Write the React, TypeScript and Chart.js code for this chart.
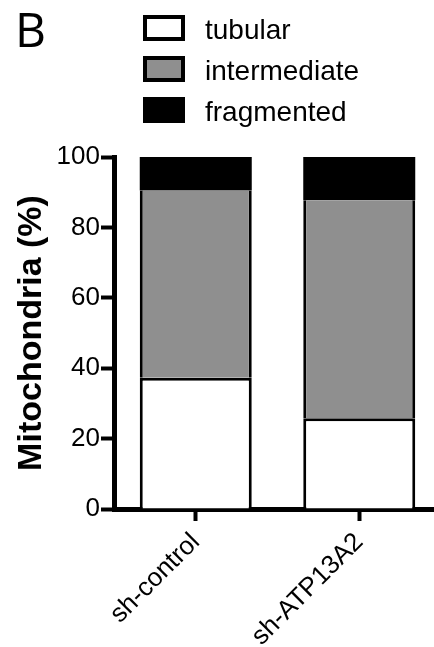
import React, { useEffect, useRef } from "react";
import { Chart, registerables } from "chart.js";

Chart.register(...registerables);

const categories = ["sh-control", "sh-ATP13A2"];
const seriesNames = ["tubular", "intermediate", "fragmented"];
const tubular = [37.3, 25.8];
const intermediate = [53.2, 61.9];
const fragmented = [9.5, 12.3];
const yTickValues = [0, 20, 40, 60, 80, 100];
const panelLetter = "B";
const yTitle = "Mitochondria (%)";

const FONT = "'Liberation Sans', Arial, sans-serif";

const overlayPlugin = {
  id: "overlay",
  afterDraw(chart: any) {
    const ctx = chart.ctx as CanvasRenderingContext2D;
    ctx.save();
    // panel letter
    ctx.fillStyle = "#000";
    ctx.font = `48px 'Open Sans', sans-serif`;
    ctx.textAlign = "left";
    ctx.textBaseline = "alphabetic";
    ctx.fillText(panelLetter, 15, 47);
    // legend
    const boxX = 143;
    const boxW = 42;
    const boxH = 26;
    const tops = [15, 56, 97];
    chart.data.datasets.forEach((ds: any, i: number) => {
      const top = tops[i];
      ctx.fillStyle = ds.backgroundColor;
      ctx.fillRect(boxX, top, boxW, boxH);
      ctx.strokeStyle = "#000";
      ctx.lineWidth = 4;
      ctx.strokeRect(boxX + 2, top + 2, boxW - 4, boxH - 4);
      ctx.fillStyle = "#000";
      ctx.font = `28px ${FONT}`;
      ctx.textAlign = "left";
      ctx.textBaseline = "alphabetic";
      ctx.fillText(ds.label, 205, top + 24);
    });
    ctx.restore();
  },
};

export default function App() {
  const canvasRef = useRef<HTMLCanvasElement | null>(null);

  useEffect(() => {
    const canvas = canvasRef.current;
    if (!canvas) return;
    const chart = new Chart(canvas, {
      type: "bar",
      data: {
        labels: categories,
        datasets: [
          {
            label: seriesNames[0],
            data: tubular,
            backgroundColor: "#ffffff",
            borderColor: "#000000",
            borderWidth: { top: 3, left: 3, right: 3, bottom: 0 },
            borderSkipped: false,
          },
          {
            label: seriesNames[1],
            data: intermediate,
            backgroundColor: "#8f8f8f",
            borderColor: "#000000",
            borderWidth: { top: 0, left: 3, right: 3, bottom: 0 },
            borderSkipped: false,
          },
          {
            label: seriesNames[2],
            data: fragmented,
            backgroundColor: "#000000",
            borderColor: "#000000",
            borderWidth: 0,
            borderSkipped: false,
          },
        ],
      },
      options: {
        animation: false,
        responsive: false,
        devicePixelRatio: 1,
        layout: { padding: { left: 0, right: 1, top: 157, bottom: 0 } },
        datasets: {
          bar: { barPercentage: 0.685, categoryPercentage: 1 },
        },
        plugins: {
          legend: { display: false },
          tooltip: { enabled: false },
          title: { display: false },
        },
        scales: {
          x: {
            stacked: true,
            offset: true,
            z: 1,
            afterFit: (s: any) => {
              s.height = 138;
            },
            border: { display: true, color: "#000", width: 5 },
            grid: {
              display: true,
              offset: false,
              drawOnChartArea: false,
              drawTicks: true,
              tickLength: 12,
              tickWidth: 4,
              tickColor: "#000",
              color: "#000",
            },
            ticks: {
              color: "#000",
              font: { family: FONT, size: 26 },
              minRotation: 45,
              maxRotation: 45,
              padding: 6,
              autoSkip: false,
            },
          },
          y: {
            stacked: true,
            min: 0,
            max: 100,
            z: 1,
            afterFit: (s: any) => {
              s.width = 114;
            },
            afterBuildTicks: (s: any) => {
              s.ticks = yTickValues.map((v) => ({ value: v }));
            },
            border: { display: true, color: "#000", width: 5 },
            grid: {
              display: true,
              drawOnChartArea: false,
              drawTicks: true,
              tickLength: 13,
              tickWidth: 4,
              tickColor: "#000",
              color: "#000",
            },
            ticks: {
              color: "#000",
              font: { family: FONT, size: 26 },
              padding: 1,
            },
            title: {
              display: true,
              text: yTitle,
              color: "#000",
              font: { family: FONT, size: 34, weight: "bold" },
              padding: { top: 11, bottom: 0 },
            },
          },
        },
      },
      plugins: [overlayPlugin],
    });
    return () => chart.destroy();
  }, []);

  return (
    <div
      style={{
        position: "fixed",
        left: 0,
        top: 0,
        width: 434,
        height: 647,
        overflow: "hidden",
        background: "#fff",
      }}
    >
      <canvas ref={canvasRef} width={442} height={647} style={{ display: "block" }} />
    </div>
  );
}
